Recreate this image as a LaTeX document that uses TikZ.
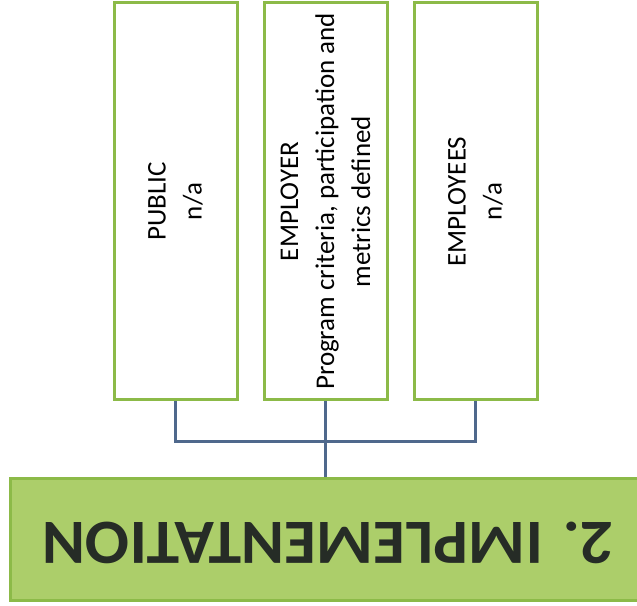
\documentclass[tikz,border=0pt]{standalone}
\usepackage{fontspec}
\setmainfont{Carlito}
\usepackage{tikz}
\usetikzlibrary{positioning,calc}
\definecolor{boxgreen}{RGB}{140,186,72}
\definecolor{phasefill}{RGB}{172,206,106}
\definecolor{linkblue}{RGB}{79,104,140}
\definecolor{titleink}{RGB}{38,44,38}

\begin{document}
\begin{tikzpicture}[x=1pt,y=1pt,
  party/.style={draw=boxgreen,line width=3pt,fill=white,rotate=90,minimum width=397pt,minimum height=123pt,align=center,font=\fontsize{27}{36}\selectfont,inner sep=0pt},
  phase/.style={draw=boxgreen,line width=3pt,fill=phasefill,minimum width=660pt,minimum height=121pt,anchor=west,inner sep=0pt},
  link/.style={draw=linkblue,line width=3pt}
]
  \useasboundingbox (0,0) rectangle (637,605);
  \clip (0,0) rectangle (637,605);
  \node[party] (pub) at (175.5,403.5) {PUBLIC\\n/a};
  \node[party] (emp) at (325.5,403.5) {EMPLOYER\\Program criteria, participation and\\metrics defined};
  \node[party] (ees) at (475.5,403.5) {EMPLOYEES\\n/a};
  \node[phase] (impl) at (9,65.5) {};
  \node[rotate=180,text=titleink,xscale=1.04,font=\fontsize{63}{70}\selectfont\bfseries] (title) at (328,62) {2. IMPLEMENTATION};
  \coordinate (bar) at ($(emp.west)+(0,-40)$);
  \draw[link] (pub.west) |- (bar) -| (ees.west);
  \draw[link] (emp.west) -- (emp.west |- impl.north);
\end{tikzpicture}
\end{document}
